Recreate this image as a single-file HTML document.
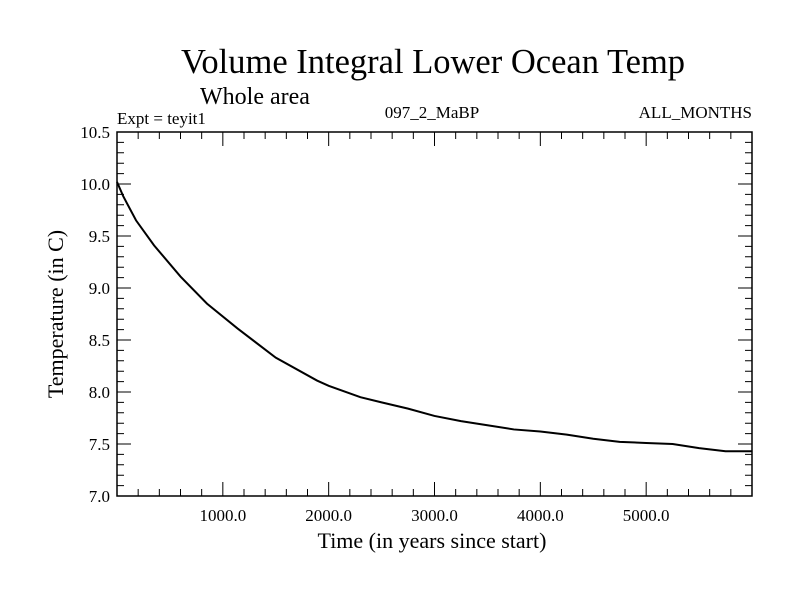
<!DOCTYPE html>
<html><head><meta charset="utf-8"><style>
body{margin:0;background:#fff}
svg text{font-family:"Liberation Serif",serif;fill:#000}
</style></head><body>
<svg width="800" height="600">
<text x="433" y="73" font-size="34.5" text-anchor="middle">Volume Integral Lower Ocean Temp</text>
<text x="200" y="104" font-size="24">Whole area</text>
<text x="117" y="124" font-size="17">Expt = teyit1</text>
<text x="432" y="118" font-size="17" text-anchor="middle">097_2_MaBP</text>
<text x="752" y="118" font-size="17" text-anchor="end">ALL_MONTHS</text>
<text x="432" y="548" font-size="22" text-anchor="middle">Time (in years since start)</text>
<text transform="translate(63,314) rotate(-90)" font-size="22" text-anchor="middle">Temperature (in C)</text>
<g id="axes"></g>
<path id="line" fill="none" stroke="#000" stroke-width="2"/>
</svg>
<script>
const years=[0,60,180,350,600,850,1140,1500,1890,2000,2300,2500,2750,3000,3250,3500,3750,4000,4250,4500,4750,5000,5250,5500,5750,6000];
const temps=[10.02,9.88,9.65,9.41,9.11,8.85,8.61,8.33,8.11,8.06,7.95,7.9,7.84,7.77,7.72,7.68,7.64,7.62,7.59,7.55,7.52,7.51,7.5,7.46,7.43,7.43];
const xTicks=[1000,2000,3000,4000,5000];
const yTicks=[7.0,7.5,8.0,8.5,9.0,9.5,10.0,10.5];
const L=117,R=752,T=132,B=496,X0=0,X1=6000,Y0=7,Y1=10.5;
const sx=v=>L+(v-X0)/(X1-X0)*(R-L);
const sy=v=>B-(v-Y0)/(Y1-Y0)*(B-T);
const ns="http://www.w3.org/2000/svg";
const g=document.getElementById('axes');
function el(t,a){const e=document.createElementNS(ns,t);for(const k in a)e.setAttribute(k,a[k]);g.appendChild(e);return e;}
const frame=el('rect',{x:L,y:T,width:R-L,height:B-T,fill:'none',stroke:'#000','stroke-width':1.5});


let d='';
for(let v=200;v<X1;v+=200){const x=sx(v),len=(v%1000===0)?14:7;d+=`M${x},${B}v${-len}M${x},${T}v${len}`;}
for(let i=1;i<35;i++){const v=Y0+i*0.1,y=sy(v),len=(i%5===0)?14:7;d+=`M${L},${y}h${len}M${R},${y}h${-len}`;}
const ticks=el('path',{d:d,stroke:'#000','stroke-width':1});


xTicks.forEach(v=>{const t=el('text',{x:sx(v),y:B+25,'font-size':17,'text-anchor':'middle'});t.textContent=v.toFixed(1);

});
yTicks.forEach(v=>{const t=el('text',{x:L-7,y:sy(v)+6,'font-size':17,'text-anchor':'end'});t.textContent=v.toFixed(1);

});
document.getElementById('line').setAttribute('d',years.map((v,i)=>(i?'L':'M')+sx(v)+','+sy(temps[i])).join(''));
</script>
</body></html>
